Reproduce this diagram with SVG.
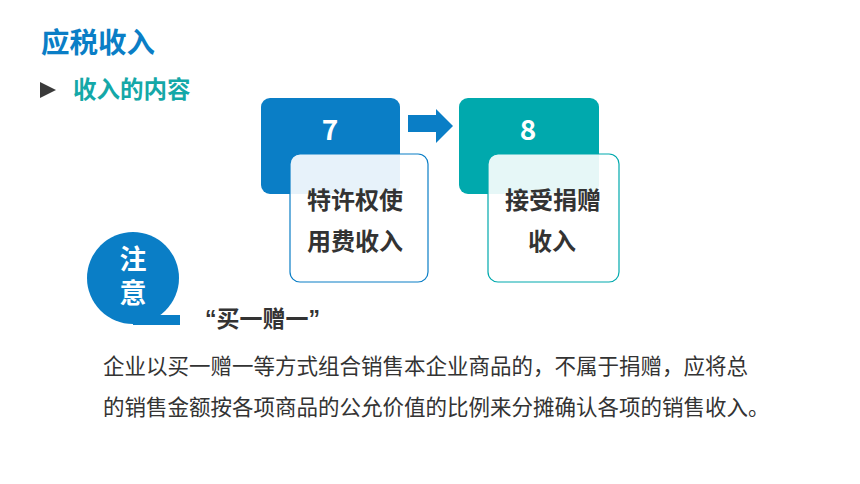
<svg xmlns="http://www.w3.org/2000/svg" width="860" height="484" viewBox="0 0 860 484">
<style>
.cjk{font-family:"Noto Sans CJK SC","Liberation Sans",sans-serif;}
.lat{font-family:"Liberation Sans","Noto Sans CJK SC",sans-serif;}
.b{font-weight:bold;}
.dark{fill:#333333;}
.white{fill:#ffffff;}
</style>
<rect x="0" y="0" width="860" height="484" fill="#ffffff"/>
<g id="title">
<text x="41" y="53" class="cjk b" font-size="28.5" fill="#0A7EC6">应税收入</text>
</g>
<g id="subtitle">
<polygon points="40,82 56,90 40,98" fill="#3a3a3a"/>
<text x="73" y="98" class="cjk b" font-size="23.5" fill="#14A8A8">收入的内容</text>
</g>
<g id="connectors">
<polygon points="408,115 436,115 436,109 453,126 436,143 436,132 408,132" fill="#0A7EC6"/>
</g>
<g id="node7">
<rect x="261" y="98" width="139" height="96" rx="9" fill="#0A7EC6"/>
<text x="330" y="140" class="cjk b white" font-size="28" text-anchor="middle">7</text>
<rect x="290" y="154" width="138" height="128" rx="10" fill="#ffffff" fill-opacity="0.9" stroke="#0A7EC6" stroke-width="1.2"/>
<text x="355" y="209" class="cjk b dark" font-size="24" text-anchor="middle">特许权使</text>
<text x="355" y="250" class="cjk b dark" font-size="24" text-anchor="middle">用费收入</text>
</g>
<g id="node8">
<rect x="459" y="98" width="140" height="96" rx="9" fill="#00A9AD"/>
<text x="528" y="140" class="cjk b white" font-size="28" text-anchor="middle">8</text>
<rect x="488" y="154" width="131" height="128" rx="10" fill="#ffffff" fill-opacity="0.9" stroke="#00A9AD" stroke-width="1.2"/>
<text x="553" y="209" class="cjk b dark" font-size="24" text-anchor="middle">接受捐赠</text>
<text x="552" y="250" class="cjk b dark" font-size="24" text-anchor="middle">收入</text>
</g>
<g id="note">
<circle cx="133" cy="278" r="46" fill="#0A7EC6"/>
<rect x="133" y="315" width="47" height="10" fill="#0A7EC6"/>
<text x="133" y="269" class="lat b white" font-size="27" text-anchor="middle">注</text>
<text x="133" y="303" class="lat b white" font-size="27" text-anchor="middle">意</text>
</g>
<g id="quote">
<text x="205" y="327" class="cjk b dark" font-size="23"><tspan class="lat">“</tspan>买一赠一<tspan class="lat">”</tspan></text>
</g>
<g id="body">
<text x="103" y="374" class="cjk dark" font-size="21.5">企业以买一赠一等方式组合销售本企业商品的，不属于捐赠，应将总</text>
<text x="103" y="415" class="cjk dark" font-size="21.5">的销售金额按各项商品的公允价值的比例来分摊确认各项的销售收入。</text>
</g>
</svg>
